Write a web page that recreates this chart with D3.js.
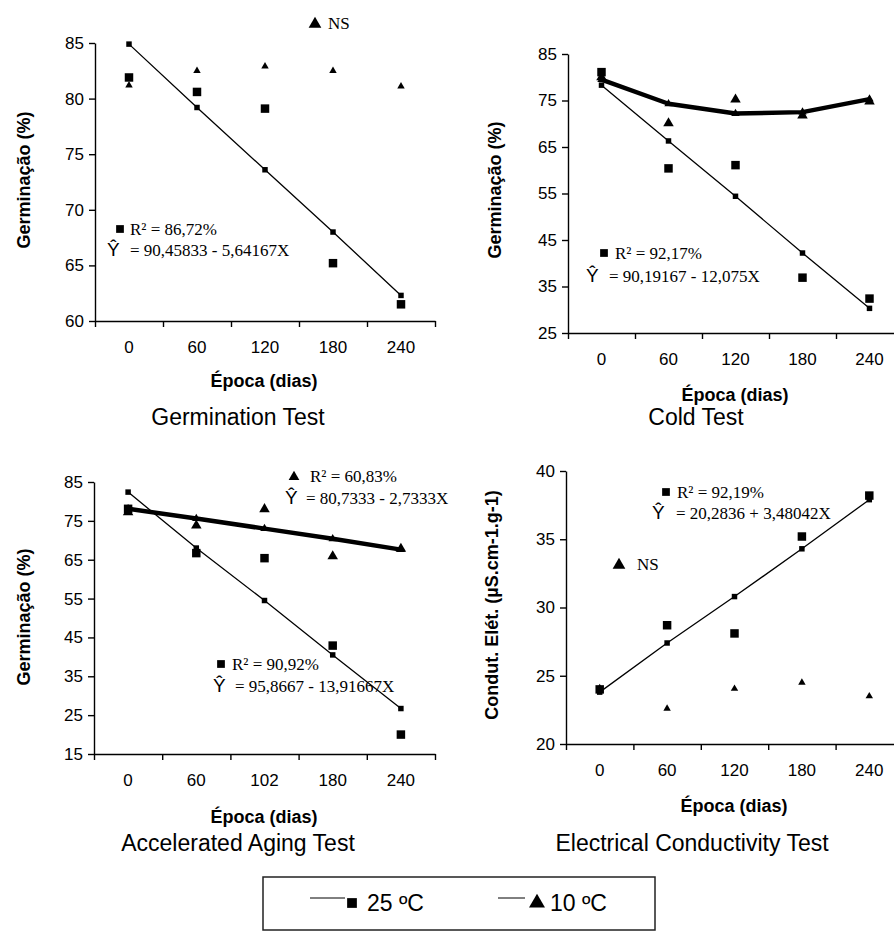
<!DOCTYPE html>
<html><head><meta charset="utf-8">
<script src="https://cdn.jsdelivr.net/npm/d3@7"></script>
<style>
body{margin:0;background:#fff}
text{fill:#000}
.tick text{font-family:"Liberation Sans",Arial,sans-serif;font-size:17px}
.domain,.tick line{stroke:#000;stroke-width:1.4}
</style>
</head><body><svg id="c" width="894" height="931"></svg>
<script>
// ---- data ----
const days = ["0","60","120","180","240"];
const agingDays = ["0","60","102","180","240"];

const germTicks = [60,65,70,75,80,85];
const germ25Obs = [81.9, 80.6, 79.1, 65.2, 61.5];
const germ25Fit = [84.9, 79.2, 73.6, 68.0, 62.3];
const germ10Obs = [81.2, 82.5, 82.9, 82.5, 81.1];

const coldTicks = [25,35,45,55,65,75,85];
const cold25Obs = [81.1, 60.4, 61.1, 36.9, 32.4];
const cold25Fit = [78.3, 66.3, 54.4, 42.2, 30.3];
const cold10Obs = [80.0, 70.1, 75.2, 71.8, 74.8];
const cold10Fit = [79.5, 74.3, 72.2, 72.5, 75.3];

const agingTicks = [15,25,35,45,55,65,75,85];
const aging25Obs = [78.1, 66.7, 65.4, 42.9, 20.0];
const aging25Fit = [82.4, 68.0, 54.5, 40.5, 26.7];
const aging10Obs = [77.2, 73.8, 78.0, 65.9, 67.8];
const aging10Fit = [78.1, 75.6, 73.0, 70.4, 67.6];

const condTicks = [20,25,30,35,40];
const cond25Obs = [24.0, 28.7, 28.1, 35.2, 38.2];
const cond25Fit = [23.8, 27.4, 30.8, 34.3, 37.9];
const cond10Obs = [24.1, 22.6, 24.05, 24.5, 23.5];

const legendLabels = ["25 ºC", "10 ºC"];

// ---- drawing ----
const svg = d3.select("#c");
const SANS = '"Liberation Sans",Arial,sans-serif';
const SERIF = '"Liberation Serif","Times New Roman",serif';

function sym(type, size){
  return d3.symbol().type(type==="sq"?d3.symbolSquare:d3.symbolTriangle).size(size)();
}

function panel(p){
  const g = svg.append("g");
  const x = d3.scaleBand().domain(p.cats).range([p.x0,p.x1]);
  const xb = d3.scaleLinear().domain([0,p.cats.length]).range([p.x0,p.x1]);
  const y = d3.scaleLinear().domain([p.ticks[0], p.ticks[p.ticks.length-1]]).range([p.yb,p.yt]);
  const cx = c => x(c)+x.bandwidth()/2;

  g.append("g").attr("transform",`translate(${p.x0},0)`)
    .call(d3.axisLeft(y).tickValues(p.ticks).tickSize(6).tickSizeOuter(0).tickPadding(5));
  g.append("g").attr("transform",`translate(0,${p.yb})`)
    .call(d3.axisBottom(xb).tickValues(d3.range(p.cats.length+1)).tickSize(6).tickSizeOuter(0).tickFormat(""));
  g.append("g").attr("transform",`translate(0,${p.yb})`)
    .call(d3.axisBottom(x).tickSize(0).tickPadding(20))
    .call(s=>s.select(".domain").remove());

  p.series.forEach(s=>{
    if(s.line){
      g.append("path").datum(s.values)
        .attr("d", d3.line().x((d,i)=>cx(p.cats[i])).y(d=>y(d)))
        .attr("fill","none").attr("stroke","#000").attr("stroke-width",s.line)
        .attr("stroke-linejoin","round");
    }
  });
  p.series.forEach(s=>{
    g.selectAll(null).data(s.values).join("path")
      .attr("d", sym(s.sym, s.size))
      .attr("transform",(d,i)=>`translate(${cx(p.cats[i])},${y(d)})`)
      .attr("fill","#000");
  });

  // axis titles
  g.append("text").attr("x",p.xt).attr("y",p.xty).attr("text-anchor","middle")
    .attr("font-family",SANS).attr("font-weight","bold").attr("font-size",18).text("Época (dias)");
  g.append("text").attr("transform",`translate(${p.ylx},${p.yly}) rotate(-90)`).attr("text-anchor","middle")
    .attr("font-family",SANS).attr("font-weight","bold").attr("font-size",18).text(p.ylabel);
  g.append("text").attr("x",p.tx).attr("y",p.ty).attr("text-anchor","middle")
    .attr("font-family",SANS).attr("font-size",23).text(p.title);

  p.notes.forEach(n=>{
    if(n.sym) g.append("path").attr("d",sym(n.sym,n.size)).attr("transform",`translate(${n.sx},${n.sy})`).attr("fill","#000");
    if(n.text) g.append("text").attr("x",n.x).attr("y",n.y).attr("font-family",SERIF).attr("font-size",17).text(n.text);
    if(n.hat){
      g.append("text").attr("x",n.hx).attr("y",n.y).attr("font-family",SANS).attr("font-size",19).text("Ŷ");
      g.append("text").attr("x",n.x).attr("y",n.y).attr("font-family",SERIF).attr("font-size",17).text(n.hat);
    }
  });
}

panel({cats:days, ticks:germTicks, x0:95, x1:435, yt:43, yb:321,
  series:[
    {values:germ25Fit, sym:"sq", size:30, line:1.3},
    {values:germ25Obs, sym:"sq", size:72},
    {values:germ10Obs, sym:"tri", size:24}
  ],
  xt:264, xty:387, ylx:30, yly:180, ylabel:"Germinação (%)",
  tx:238, ty:425, title:"Germination Test",
  notes:[
    {sym:"tri", size:70, sx:315, sy:24},
    {text:"NS", x:328, y:29},
    {sym:"sq", size:60, sx:120, sy:229},
    {text:"R² = 86,72%", x:130, y:235},
    {hat:"= 90,45833 - 5,64167X", hx:107, x:130, y:256}
  ]});

panel({cats:days, ticks:coldTicks, x0:568, x1:903, yt:54, yb:333,
  series:[
    {values:cold25Fit, sym:"sq", size:30, line:1.3},
    {values:cold10Fit, sym:"tri", size:30, line:4.5},
    {values:cold25Obs, sym:"sq", size:72},
    {values:cold10Obs, sym:"tri", size:48}
  ],
  xt:735, xty:401, ylx:501, yly:190, ylabel:"Germinação (%)",
  tx:696, ty:425, title:"Cold Test",
  notes:[
    {sym:"sq", size:60, sx:604, sy:253},
    {text:"R² = 92,17%", x:615, y:259},
    {hat:"= 90,19167 - 12,075X", hx:586, x:609, y:282}
  ]});

panel({cats:agingDays, ticks:agingTicks, x0:94, x1:435, yt:482, yb:754,
  series:[
    {values:aging25Fit, sym:"sq", size:30, line:1.3},
    {values:aging10Fit, sym:"tri", size:30, line:4.5},
    {values:aging25Obs, sym:"sq", size:72},
    {values:aging10Obs, sym:"tri", size:48}
  ],
  xt:264, xty:823, ylx:30, yly:617, ylabel:"Germinação (%)",
  tx:238, ty:851, title:"Accelerated Aging Test",
  notes:[
    {sym:"tri", size:50, sx:294, sy:477},
    {text:"R² = 60,83%", x:310, y:482},
    {hat:"= 80,7333 - 2,7333X", hx:285, x:306, y:504},
    {sym:"sq", size:60, sx:221, sy:664},
    {text:"R² = 90,92%", x:232, y:670},
    {hat:"= 95,8667 - 13,91667X", hx:213, x:235, y:692}
  ]});

panel({cats:days, ticks:condTicks, x0:566, x1:903, yt:471, yb:744,
  series:[
    {values:cond25Fit, sym:"sq", size:30, line:1.3},
    {values:cond25Obs, sym:"sq", size:72},
    {values:cond10Obs, sym:"tri", size:24}
  ],
  xt:734, xty:812, ylx:498, yly:605, ylabel:"Condut. Elét. (µS.cm-1.g-1)",
  tx:692, ty:851, title:"Electrical Conductivity Test",
  notes:[
    {sym:"tri", size:70, sx:619, sy:565},
    {text:"NS", x:637, y:570},
    {sym:"sq", size:60, sx:666, sy:492},
    {text:"R² = 92,19%", x:677, y:498},
    {hat:"= 20,2836 + 3,48042X", hx:652, x:676, y:519}
  ]});

// legend
const lg = svg.append("g");
lg.append("rect").attr("x",263).attr("y",877).attr("width",392).attr("height",53)
  .attr("fill","none").attr("stroke","#222").attr("stroke-width",1.5);
const legendItems = [
  {label:legendLabels[0], sym:"sq", size:95, lx0:310, lx1:345, sx:352, tx:367},
  {label:legendLabels[1], sym:"tri", size:110, lx0:498, lx1:525, sx:537, tx:550}
];
legendItems.forEach(it=>{
  lg.append("line").attr("x1",it.lx0).attr("x2",it.lx1).attr("y1",898).attr("y2",898)
    .attr("stroke","#000").attr("stroke-width",1);
  lg.append("path").attr("d",sym(it.sym,it.size)).attr("transform",`translate(${it.sx},${903})`).attr("fill","#000");
  lg.append("text").attr("x",it.tx).attr("y",911).attr("font-family",SANS).attr("font-size",23).text(it.label);
});
</script>
</body></html>
